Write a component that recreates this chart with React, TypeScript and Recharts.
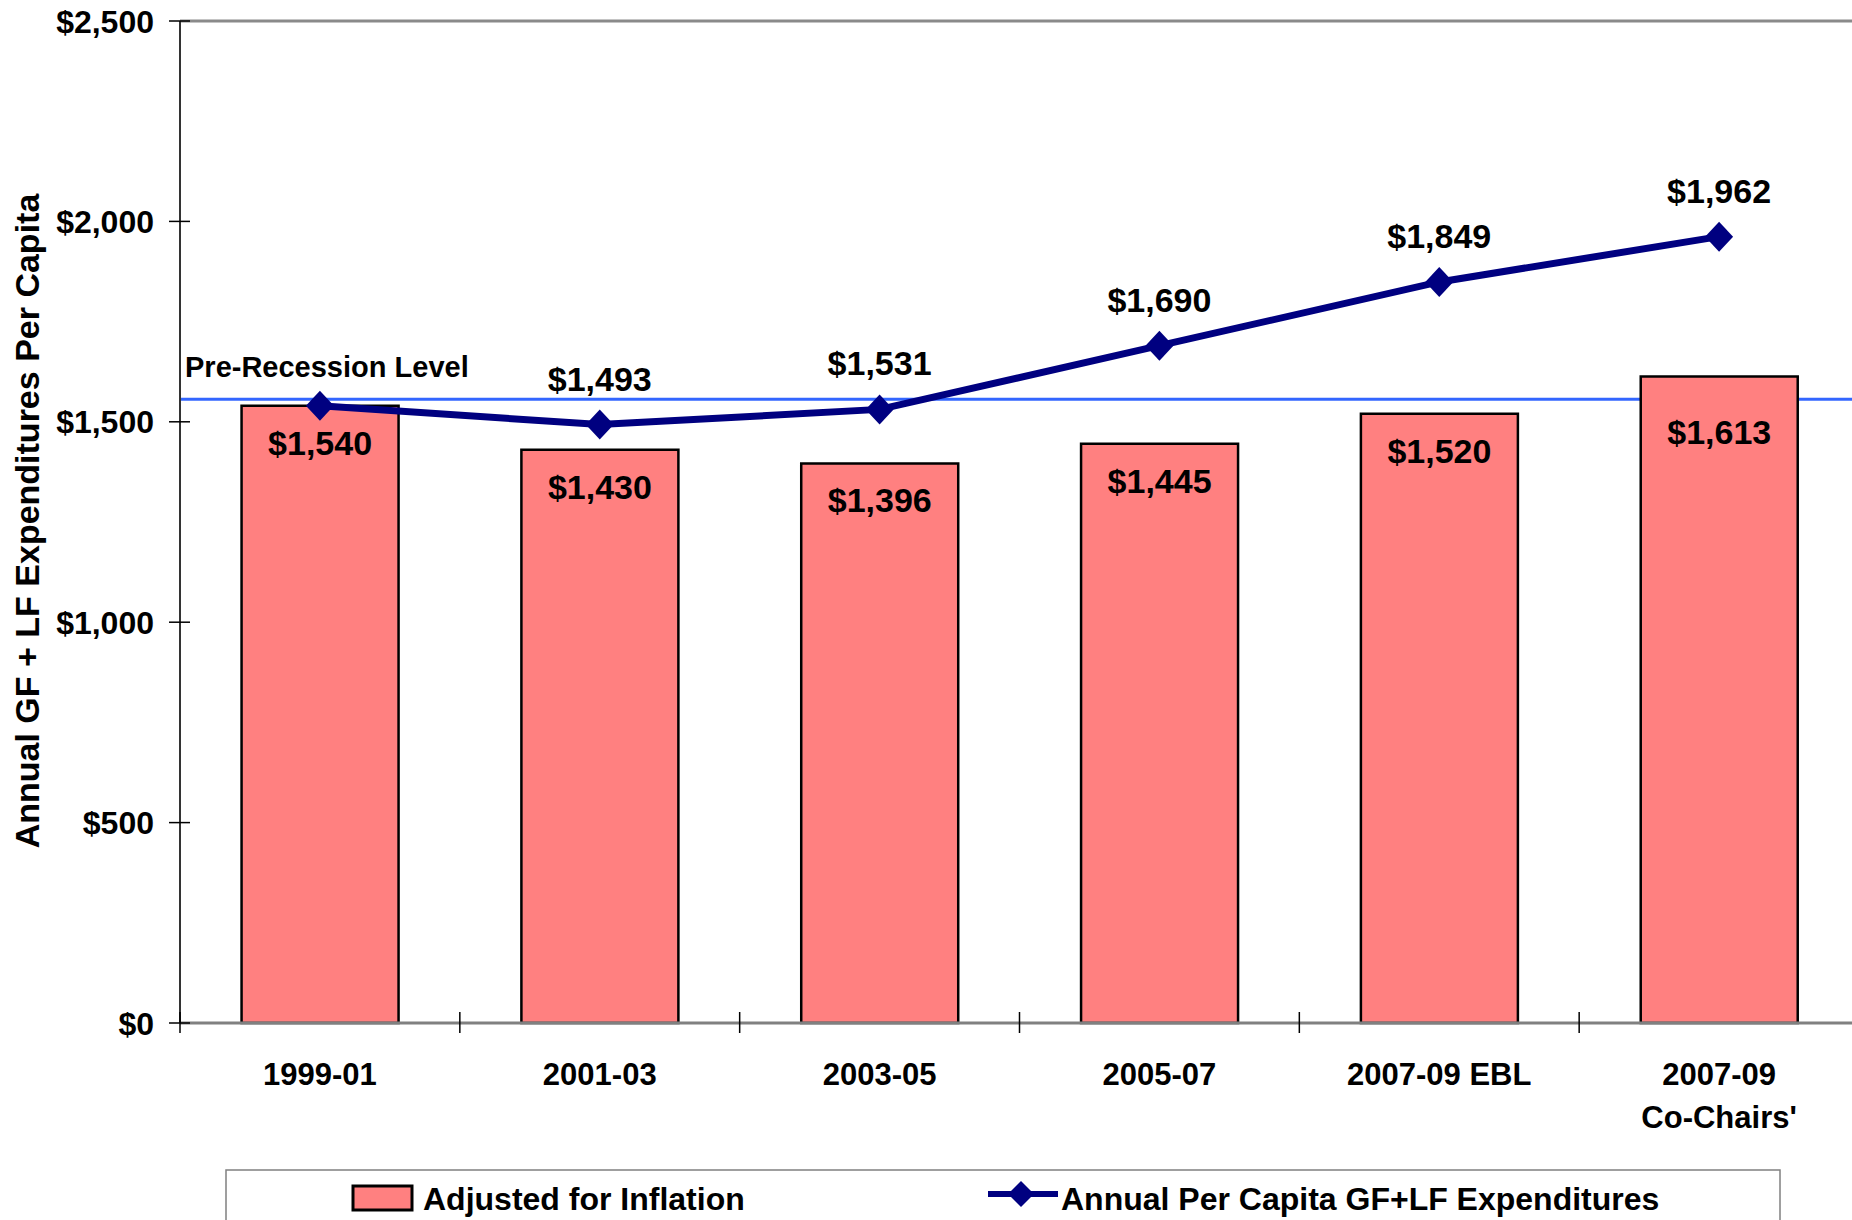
import React from "react";
import {
  ComposedChart,
  Bar,
  Line,
  XAxis,
  YAxis,
  ReferenceLine,
  LabelList,
} from "recharts";

const periods = ["1999-01", "2001-03", "2003-05", "2005-07", "2007-09 EBL", "2007-09\nCo-Chairs'"];
const adjustedForInflation = [1540, 1430, 1396, 1445, 1520, 1613];
const annualPerCapita = [1540, 1493, 1531, 1690, 1849, 1962];
const yTicks = [0, 500, 1000, 1500, 2000, 2500];
const preRecessionLevel = 1556;

const data = periods.map((p, i) => ({
  period: p,
  adjusted: adjustedForInflation[i],
  nominal: annualPerCapita[i],
}));

const W = 1852;
const H = 1220;
const LEFT = 180;
const RIGHT_MARGIN = -7;
const HALF_BAND = (W - RIGHT_MARGIN - LEFT) / periods.length / 2;
const FONT = "'Liberation Sans', Arial, sans-serif";
const NAVY = "#000080";
const PINK = "#FF8080";
const MARGIN = { top: 21, right: RIGHT_MARGIN, left: 0, bottom: 0 };
// the last bar label sits lower so it clears the pre-recession line
const LAST_BAR_LABEL_NUDGE = 18;

const fmt = (v: number) => "$" + v.toLocaleString("en-US");

const YTick = (props: any) => {
  const { x, y, payload } = props;
  return (
    <g>
      <line x1={x - 11} x2={x + 10} y1={y} y2={y} stroke="#000" strokeWidth={1.5} />
      <text
        x={x - 26}
        y={y}
        dy="0.36em"
        textAnchor="end"
        fontFamily={FONT}
        fontWeight="bold"
        fontSize={32}
        fill="#000"
      >
        {fmt(payload.value)}
      </text>
    </g>
  );
};

const XTick = (props: any) => {
  const { x, y, payload, index } = props;
  const lines = String(payload.value).split("\n");
  return (
    <g>
      <line x1={x - HALF_BAND} x2={x - HALF_BAND} y1={y - 11} y2={y + 10} stroke="#000" strokeWidth={1.5} />
      {index === periods.length - 1 && (
        <line x1={x + HALF_BAND} x2={x + HALF_BAND} y1={y - 11} y2={y + 10} stroke="#000" strokeWidth={1.5} />
      )}
      {lines.map((l, i) => (
        <text
          key={i}
          x={x}
          y={y + 62 + i * 43}
          textAnchor="middle"
          fontFamily={FONT}
          fontWeight="bold"
          fontSize={31}
          fill="#000"
        >
          {l}
        </text>
      ))}
    </g>
  );
};

const Diamond = (props: any) => {
  const { cx, cy } = props;
  if (cx == null || cy == null) return null;
  return (
    <path
      d={`M${cx},${cy - 15}L${cx + 14},${cy}L${cx},${cy + 15}L${cx - 14},${cy}Z`}
      fill={NAVY}
    />
  );
};

const BarLabel = (props: any) => {
  const { x, y, width, value, index } = props;
  const nudge = index === periods.length - 1 ? LAST_BAR_LABEL_NUDGE : 0;
  return (
    <text
      x={x + width / 2}
      y={y + 49 + nudge}
      textAnchor="middle"
      fontFamily={FONT}
      fontWeight="bold"
      fontSize={34}
      fill="#000"
    >
      {fmt(value)}
    </text>
  );
};

const LineLabel = (props: any) => {
  const { x, y, value, index } = props;
  if (index === 0) return null;
  return (
    <text
      x={x}
      y={y - 34}
      textAnchor="middle"
      fontFamily={FONT}
      fontWeight="bold"
      fontSize={34}
      fill="#000"
    >
      {fmt(value)}
    </text>
  );
};

const PreRecessionLabel = (props: any) => {
  const { viewBox } = props;
  return (
    <text
      x={185}
      y={viewBox.y - 22}
      fontFamily={FONT}
      fontWeight="bold"
      fontSize={29}
      fill="#000"
    >
      Pre-Recession Level
    </text>
  );
};

const YTitle = () => (
  <text
    x={27}
    y={521}
    transform="rotate(-90, 27, 521)"
    textAnchor="middle"
    dominantBaseline="central"
    fontFamily={FONT}
    fontWeight="bold"
    fontSize={34}
    fill="#000"
  >
    Annual GF + LF Expenditures Per Capita
  </text>
);

const LegendOverlay = () => (
  <svg
    width={W}
    height={H}
    style={{ position: "absolute", left: 0, top: 0, pointerEvents: "none" }}
  >
    <rect x={226} y={1170} width={1554} height={80} fill="#fff" stroke="#808080" strokeWidth={1.5} />
    <rect x={353} y={1186} width={59} height={24} fill={PINK} stroke="#000" strokeWidth={3} />
    <text x={423} y={1210} fontFamily={FONT} fontWeight="bold" fontSize={32} fill="#000">
      Adjusted for Inflation
    </text>
    <line x1={988} x2={1058} y1={1194} y2={1194} stroke={NAVY} strokeWidth={6} />
    <path d={`M1021,1181L1034,1194L1021,1207L1008,1194Z`} fill={NAVY} />
    <text x={1061} y={1210} fontFamily={FONT} fontWeight="bold" fontSize={32} fill="#000">
      Annual Per Capita GF+LF Expenditures
    </text>
    <YTitle />
  </svg>
);

export default function App() {
  return (
    <div style={{ position: "absolute", left: 0, top: 0, width: W, height: H, background: "#fff", overflow: "hidden" }}>
      {/* background layer: pre-recession reference line drawn beneath the bars */}
      <div style={{ position: "absolute", left: 0, top: 0, width: W, height: H }}>
        <ComposedChart width={W} height={H} data={data} margin={MARGIN} barCategoryGap="22%">
          <XAxis dataKey="period" height={197} tick={false} axisLine={false} tickLine={false} />
          <YAxis width={LEFT} domain={[0, 2500]} ticks={yTicks} tick={false} axisLine={false} tickLine={false} />
          <Bar dataKey="adjusted" fill="none" stroke="none" isAnimationActive={false} />
          <ReferenceLine
            y={preRecessionLevel}
            stroke="#3366FF"
            strokeWidth={3}
            label={<PreRecessionLabel />}
          />
        </ComposedChart>
      </div>
      <div style={{ position: "absolute", left: 0, top: 0, width: W, height: H }}>
        <ComposedChart
          width={W}
          height={H}
          data={data}
          margin={MARGIN}
          barCategoryGap="22%"
        >
          <XAxis
            dataKey="period"
            height={197}
            interval={0}
            tick={<XTick />}
            tickLine={false}
            tickSize={0}
            tickMargin={0}
            axisLine={{ stroke: "#808080", strokeWidth: 3 }}
          />
          <YAxis
            width={LEFT}
            domain={[0, 2500]}
            ticks={yTicks}
            interval={0}
            tick={<YTick />}
            tickLine={false}
            tickSize={0}
            tickMargin={0}
            axisLine={{ stroke: "#333", strokeWidth: 2 }}
          />
          <ReferenceLine y={2500} stroke="#8a8a8a" strokeWidth={3} />
          <Bar
            dataKey="adjusted"
            fill={PINK}
            stroke="#000"
            strokeWidth={2.5}
            isAnimationActive={false}
          >
            <LabelList dataKey="adjusted" content={<BarLabel />} />
          </Bar>
          <Line
            dataKey="nominal"
            stroke={NAVY}
            strokeWidth={7}
            dot={<Diamond />}
            activeDot={false}
            isAnimationActive={false}
          >
            <LabelList dataKey="nominal" content={<LineLabel />} />
          </Line>
        </ComposedChart>
      </div>
      <LegendOverlay />
    </div>
  );
}
